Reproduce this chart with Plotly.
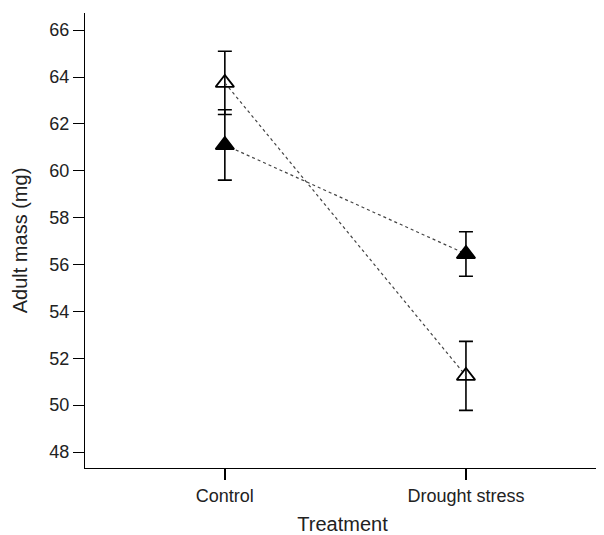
import plotly.graph_objects as go

categories = ["Control", "Drought stress"]
x_pos = [0, 1]
open_mean = [63.75, 51.25]
open_err = [1.35, 1.47]
filled_mean = [61.1, 56.45]
filled_err = [1.5, 0.95]
y_ticks = [48, 50, 52, 54, 56, 58, 60, 62, 64, 66]

fig = go.Figure()
for mean, err, sym in [(open_mean, open_err, "triangle-up-open"),
                       (filled_mean, filled_err, "triangle-up")]:
    fig.add_trace(go.Scatter(
        x=x_pos, y=mean, mode="lines+markers",
        line=dict(color="#444444", width=1.2, dash="dot"),
        marker=dict(symbol=sym, size=16, color="black",
                    line=dict(color="black", width=1.8)),
        error_y=dict(type="data", array=err, visible=True, color="black",
                     thickness=1.6, width=7),
        showlegend=False,
    ))

fig.update_layout(
    width=596, height=527,
    margin=dict(l=77, r=4, t=5, b=67),
    paper_bgcolor="white", plot_bgcolor="white",
    font=dict(family="Liberation Sans, Arial, sans-serif", color="#222222", size=18),
)
fig.update_xaxes(
    range=[-0.58, 1.556], tickvals=x_pos, ticktext=categories,
    showline=True, linecolor="black", linewidth=1.2, mirror=False,
    ticks="outside", ticklen=11, tickwidth=1.5, tickcolor="black",
    showgrid=False, zeroline=False, tickfont=dict(size=18),
    title=dict(text="Treatment", font=dict(size=20), standoff=12),
)
fig.update_yaxes(
    range=[47.32, 66.73], tickvals=y_ticks,
    showline=True, linecolor="black", linewidth=1.2, mirror=False,
    ticks="outside", ticklen=11, tickwidth=1.2, tickcolor="black",
    showgrid=False, zeroline=False, tickfont=dict(size=18),
    title=dict(text="Adult mass (mg)", font=dict(size=20), standoff=16),
)

fig.write_html("out.html")
